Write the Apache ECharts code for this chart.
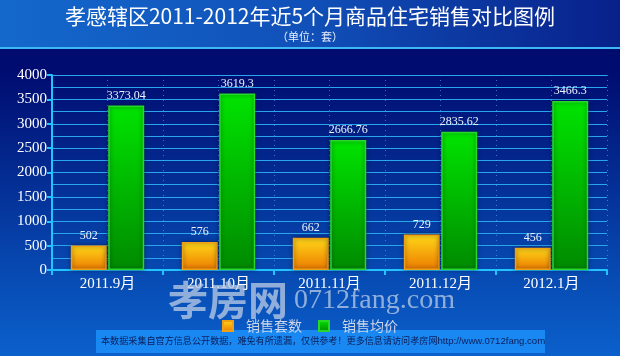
<!DOCTYPE html>
<html><head><meta charset="utf-8">
<script src="https://cdn.jsdelivr.net/npm/echarts@6/dist/echarts.min.js"></script>
<style>html,body{margin:0;padding:0;background:#000a6b;}#c{width:620px;height:356px;}</style>
</head><body><div id="c"></div>
<script>
var categories = ['2011.9月', '2011.10月', '2011.11月', '2011.12月', '2012.1月'];
var salesCount = [502, 576, 662, 729, 456];
var avgPrice = [3373.04, 3619.3, 2666.76, 2835.62, 3466.3];
var seriesNames = ['销售套数', '销售均价'];
var titleText = '孝感辖区2011-2012年近5个月商品住宅销售对比图例';
var subText = '（单位：套）';
var footerText = '本数据采集自官方信息公开数据，难免有所遗漏，仅供参考！更多信息请访问孝房网';
var footerUrl = 'http://www.0712fang.com';

var serif = '"Liberation Serif","DejaVu Serif","Noto Sans CJK SC",serif';
var chart = echarts.init(document.getElementById('c'));
chart.setOption({
  animation: false,
  backgroundColor: new echarts.graphic.LinearGradient(0, 0, 0, 1, [
    {offset: 0, color: '#000a6b'}, {offset: 0.2, color: '#000c70'},
    {offset: 0.75, color: '#0748b0'}, {offset: 1, color: '#0b60cc'}
  ]),
  graphic: [
    {type: 'rect', z: -1, shape: {x: 0, y: 0, width: 620, height: 47},
     style: {fill: new echarts.graphic.LinearGradient(0, 0, 1, 0, [
       {offset: 0, color: '#1468cc'}, {offset: 0.5, color: '#1050b8'}, {offset: 1, color: '#08208a'}])}},
    {type: 'rect', z: -1, shape: {x: 0, y: 47, width: 620, height: 2}, style: {fill: '#3db8f5'}},
    {type: 'text', left: 'center', top: 6, style: {text: titleText, fill: '#ffffff',
      font: '21px "Noto Sans CJK SC", sans-serif'}},
    {type: 'text', left: 'center', top: 31, style: {text: subText, fill: '#e8f0ff',
      font: '11px "Noto Sans CJK SC", sans-serif'}},
    {type: 'text', left: 168, top: 280, z: 1, style: {text: '孝房网', fill: 'rgba(190,205,230,0.75)',
      font: 'bold 40px "Noto Sans CJK SC", sans-serif'}},
    {type: 'text', left: 294, top: 287, z: 1, style: {text: '0712fang.com', fill: 'rgba(190,205,230,0.75)',
      font: '28px "Liberation Serif", serif'}},
    {type: 'rect', shape: {x: 96, y: 330, width: 449, height: 23}, style: {fill: '#1a88f2'}},
    {type: 'text', left: 101, top: 336, style: {
      text: '{a|' + footerText + '}{b|' + footerUrl + '}',
      rich: {
        a: {fill: '#0a1e5a', font: '9.1px "Noto Sans CJK SC", sans-serif'},
        b: {fill: '#0a1e5a', font: '9.6px "Liberation Sans", sans-serif'}
      }}}
  ],
  legend: {
    data: seriesNames, left: 'center', top: 314, itemWidth: 10, itemHeight: 10, itemGap: 16,
    icon: 'rect', textStyle: {color: '#cdd6e8', fontSize: 14, padding: [0, 0, 0, 8],
      fontFamily: '"Noto Sans CJK SC", sans-serif'}
  },
  grid: {left: 52, right: 13, top: 75, bottom: 86, containLabel: false},
  xAxis: [{
    type: 'category', data: categories,
    axisLine: {lineStyle: {color: '#22c4ff', width: 2}},
    axisTick: {show: true, length: 5, lineStyle: {color: '#22c4ff', width: 2}},
    axisLabel: {color: '#ffffff', fontSize: 15, fontFamily: serif, margin: 7},
    splitLine: {show: false}
  }, {
    type: 'value', min: 0, max: 10, interval: 1, position: 'bottom',
    axisLine: {show: false}, axisTick: {show: false}, axisLabel: {show: false},
    splitLine: {show: true, lineStyle: {color: 'rgba(90,170,255,0.6)', type: [1, 4], width: 1}}
  }],
  yAxis: {
    type: 'value', min: 0, max: 4000, interval: 500,
    axisLine: {show: true, lineStyle: {color: '#22c4ff', width: 2}},
    axisTick: {show: true, length: 5, lineStyle: {color: '#22c4ff', width: 2}},
    axisLabel: {color: '#ffffff', fontSize: 15, fontFamily: serif, margin: 5,
      formatter: function (v) { return String(v); }},
    splitLine: {show: true, lineStyle: {color: '#2aa6ee', width: 1}},
    minorTick: {show: false, splitNumber: 2},
    minorSplitLine: {show: true, lineStyle: {color: '#2aa6ee', width: 1}}
  },
  series: [{
    name: seriesNames[0], type: 'bar', data: salesCount, barWidth: 36, barGap: '4%',
    itemStyle: {
      color: new echarts.graphic.LinearGradient(0, 0, 0, 1, [
        {offset: 0, color: '#ffd818'}, {offset: 1, color: '#ec7a00'}]),
      borderColor: '#f0a010', borderWidth: 1.5,
      shadowBlur: 4, shadowColor: 'rgba(0,0,40,0.5)'
    },
    label: {show: true, position: 'top', color: '#eef4ff', fontSize: 12, fontFamily: serif, distance: 4}
  }, {
    name: seriesNames[1], type: 'bar', data: avgPrice, barWidth: 36,
    itemStyle: {
      color: new echarts.graphic.LinearGradient(0, 0, 0, 1, [
        {offset: 0, color: '#00e400'}, {offset: 1, color: '#008a00'}]),
      borderColor: '#28d828', borderWidth: 1.5,
      shadowBlur: 4, shadowColor: 'rgba(0,0,40,0.5)'
    },
    label: {show: true, position: 'top', color: '#eef4ff', fontSize: 12, fontFamily: serif, distance: 4}
  }]
});
</script></body></html>
